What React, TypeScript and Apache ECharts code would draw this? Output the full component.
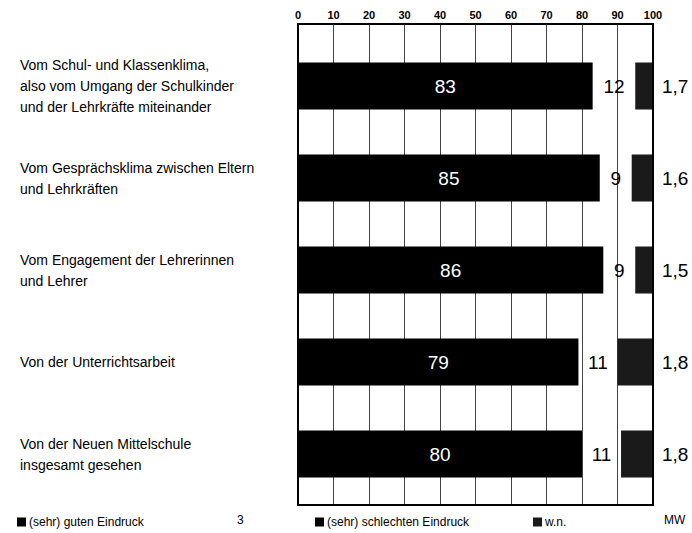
import React, { useEffect, useRef } from "react";
import * as echarts from "echarts";

const categories = [
  "Vom Schul- und Klassenklima,\nalso vom Umgang der Schulkinder\nund der Lehrkräfte miteinander",
  "Vom Gesprächsklima zwischen Eltern\nund Lehrkräften",
  "Vom Engagement der Lehrerinnen\nund Lehrer",
  "Von der Unterrichtsarbeit",
  "Von der Neuen Mittelschule\ninsgesamt gesehen",
];
const goodValues = [83, 85, 86, 79, 80];
const badValues = [12, 9, 9, 11, 11];
const wnValues = [5, 6, 5, 10, 9];
const mwLabels = ["1,7", "1,6", "1,5", "1,8", "1,8"];
const seriesNames = ["(sehr) guten Eindruck", "(sehr) schlechten Eindruck", "w.n."];
const extraLegendTexts = ["3", "MW"];

const FONT = "'Liberation Sans', Arial, sans-serif";

export default function App() {
  const ref = useRef<HTMLDivElement>(null);
  useEffect(() => {
    if (!ref.current) return;
    const chart = echarts.init(ref.current, null, { renderer: "svg" });
    const valueLabel = { fontFamily: FONT, fontSize: 19 };
    const legendText = { fontSize: 12, color: "#000", fontFamily: FONT, padding: [0, 0, 0, -2] };
    const option: any = {
      animation: false,
      backgroundColor: "#fff",
      textStyle: { fontFamily: FONT },
      grid: [
        {
          left: 298,
          top: 24,
          width: 355,
          height: 481,
          show: true,
          borderColor: "#000",
          borderWidth: 2,
          backgroundColor: "transparent",
          z: 5,
        },
        { left: 298, top: 40, width: 355, height: 460 },
      ],
      xAxis: [
        {
          gridIndex: 0,
          type: "value",
          min: 0,
          max: 100,
          interval: 10,
          position: "top",
          axisLine: { show: false },
          axisTick: { show: false },
          axisLabel: {
            margin: 4,
            color: "#000",
            fontWeight: "bold",
            fontSize: 11,
            fontFamily: FONT,
          },
          splitLine: { show: true, lineStyle: { color: "#444", width: 1 } },
        },
        {
          gridIndex: 1,
          type: "value",
          min: 0,
          max: 100,
          show: false,
        },
      ],
      yAxis: [
        { gridIndex: 0, type: "value", min: 0, max: 1, show: false },
        {
          gridIndex: 1,
          type: "category",
          inverse: true,
          data: categories,
          axisLine: { show: false },
          axisTick: { show: false },
          splitLine: { show: false },
          axisLabel: {
            align: "left",
            margin: 278,
            color: "#000",
            fontSize: 14,
            lineHeight: 21,
            fontFamily: FONT,
          },
        },
      ],
      legend: [
        {
          left: 12,
          top: 511,
          icon: "rect",
          itemWidth: 9,
          itemHeight: 9,
          selectedMode: false,
          textStyle: legendText,
          data: [{ name: seriesNames[0], itemStyle: { color: "#000" } }],
        },
        {
          left: 310,
          top: 511,
          icon: "rect",
          itemWidth: 9,
          itemHeight: 9,
          selectedMode: false,
          textStyle: legendText,
          data: [{ name: seriesNames[1], itemStyle: { color: "#000" } }],
        },
        {
          left: 528,
          top: 511,
          icon: "rect",
          itemWidth: 9,
          itemHeight: 9,
          selectedMode: false,
          textStyle: legendText,
          data: [{ name: seriesNames[2], itemStyle: { color: "#1a1a1a" } }],
        },
      ],
      graphic: [
        {
          type: "text",
          left: 237,
          top: 514,
          style: { text: extraLegendTexts[0], fontSize: 12, fill: "#000", fontFamily: FONT },
        },
        {
          type: "text",
          left: 664,
          top: 514,
          style: { text: extraLegendTexts[1], fontSize: 12, fill: "#000", fontFamily: FONT },
        },
      ],
      series: [
        {
          name: seriesNames[0],
          type: "bar",
          xAxisIndex: 1,
          yAxisIndex: 1,
          stack: "t",
          barWidth: 47,
          data: goodValues,
          itemStyle: { color: "#000" },
          label: { show: true, position: "inside", color: "#fff", ...valueLabel },
        },
        {
          name: seriesNames[1],
          type: "bar",
          xAxisIndex: 1,
          yAxisIndex: 1,
          stack: "t",
          barWidth: 47,
          data: badValues,
          itemStyle: { color: "rgba(0,0,0,0)" },
          label: { show: true, position: "inside", color: "#000", ...valueLabel },
        },
        {
          name: seriesNames[2],
          type: "bar",
          xAxisIndex: 1,
          yAxisIndex: 1,
          stack: "t",
          barWidth: 47,
          data: wnValues,
          itemStyle: { color: "#1a1a1a" },
          label: {
            show: true,
            position: "right",
            distance: 9,
            color: "#000",
            ...valueLabel,
            formatter: (p: any) => mwLabels[p.dataIndex],
          },
        },
      ],
    };
    chart.setOption(option);
    return () => chart.dispose();
  }, []);
  return (
    <div
      ref={ref}
      style={{ position: "fixed", left: 0, top: 0, width: 692, height: 533 }}
    />
  );
}
